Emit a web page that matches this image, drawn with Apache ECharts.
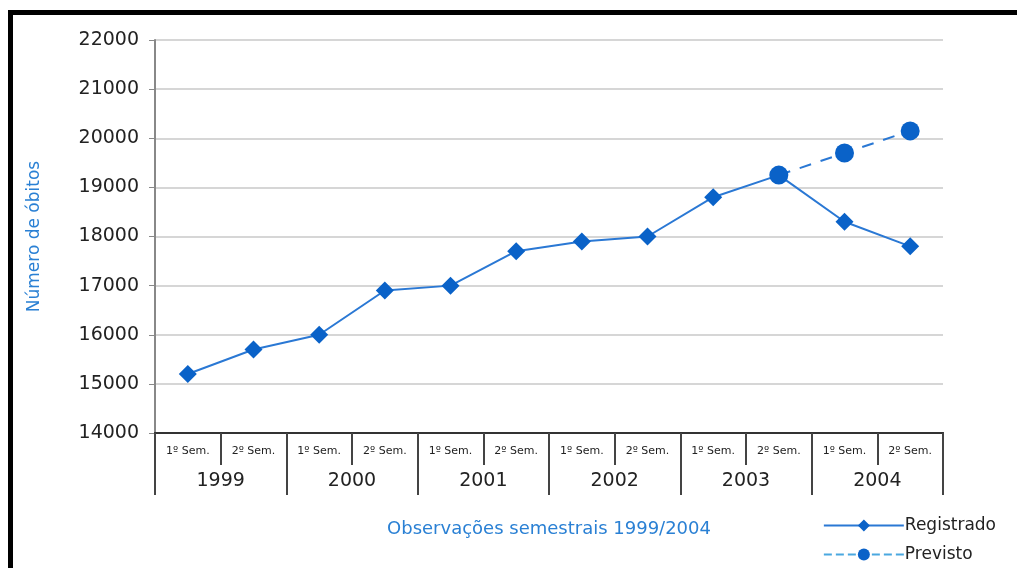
<!DOCTYPE html>
<html>
<head>
<meta charset="utf-8">
<script src="https://cdn.jsdelivr.net/npm/echarts@6/dist/echarts.min.js"></script>
<style>html,body{margin:0;padding:0;background:#fff;}#c{width:1017px;height:568px;}</style>
</head>
<body>
<div id="c"></div>
<script>
const semesters = ['1º Sem.','2º Sem.','1º Sem.','2º Sem.','1º Sem.','2º Sem.','1º Sem.','2º Sem.','1º Sem.','2º Sem.','1º Sem.','2º Sem.'];
const years = ['1999','2000','2001','2002','2003','2004'];
const registrado = [15200, 15700, 16000, 16900, 17000, 17700, 17900, 18000, 18800, 19250, 18300, 17800];
const previsto = [null, null, null, null, null, null, null, null, null, 19250, 19700, 20150];
const yTicks = {min: 14000, max: 22000, interval: 1000};

const FONT = 'DejaVu Sans';
const blue = '#0a62c8';
const lineBlue = '#2a78d4';
const chart = echarts.init(document.getElementById('c'));
chart.setOption({
  animation: false,
  backgroundColor: '#fff',
  textStyle: {fontFamily: FONT},
  grid: {left: 155, right: 74, top: 40, bottom: 135},
  xAxis: [{
    type: 'category',
    data: semesters,
    boundaryGap: true,
    position: 'bottom',
    axisLine: {show: true, lineStyle: {color: '#333', width: 2}},
    axisTick: {show: true, interval: 0, length: 32, lineStyle: {color: '#444', width: 2}},
    axisLabel: {interval: 0, fontSize: 11, color: '#222', margin: 13, fontFamily: FONT},
    splitLine: {show: false}
  }, {
    type: 'category',
    data: years,
    boundaryGap: true,
    position: 'bottom',
    axisLine: {show: true, lineStyle: {color: '#333', width: 2}},
    axisTick: {show: true, interval: 0, length: 62, lineStyle: {color: '#444', width: 2}},
    axisLabel: {interval: 0, fontSize: 19, color: '#222', margin: 39, fontFamily: FONT},
    splitLine: {show: false},
    name: 'Observações semestrais 1999/2004',
    nameLocation: 'middle',
    nameGap: 87,
    nameTextStyle: {color: '#2a80d4', fontSize: 18, fontFamily: FONT}
  }],
  yAxis: {
    type: 'value',
    min: yTicks.min, max: yTicks.max, interval: yTicks.interval,
    axisLine: {show: true, lineStyle: {color: '#888', width: 2}},
    axisTick: {show: true, length: 6, lineStyle: {color: '#888', width: 1}},
    axisLabel: {fontSize: 19, color: '#222', margin: 16, fontFamily: FONT, formatter: v => String(v)},
    splitLine: {show: true, lineStyle: {color: '#d6d6d6', width: 2}},
    name: 'Número de óbitos',
    nameLocation: 'middle',
    nameGap: 112,
    nameTextStyle: {color: '#2a80d4', fontSize: 17, fontFamily: FONT}
  },
  legend: {
    orient: 'vertical',
    right: 16,
    top: 512,
    itemWidth: 80,
    itemHeight: 15,
    itemGap: 12,
    textStyle: {fontSize: 17, color: '#222', fontFamily: FONT, padding: [0,0,0,-4]},
    data: [
      {name: 'Registrado'},
      {name: 'Previsto', lineStyle: {color: '#4aa8e0', type: 'dashed', width: 2}}
    ]
  },
  series: [{
    name: 'Registrado',
    type: 'line',
    xAxisIndex: 0,
    data: registrado,
    symbol: 'diamond',
    symbolSize: 18,
    itemStyle: {color: blue},
    lineStyle: {color: lineBlue, width: 2}
  }, {
    name: 'Previsto',
    type: 'line',
    xAxisIndex: 0,
    data: previsto,
    symbol: 'circle',
    symbolSize: 19,
    itemStyle: {color: blue},
    lineStyle: {color: lineBlue, width: 2, type: [12, 10]}
  }],
  graphic: [
    {type: 'rect', shape: {x: 8, y: 10, width: 1009, height: 5}, style: {fill: '#000'}},
    {type: 'rect', shape: {x: 8, y: 10, width: 5, height: 558}, style: {fill: '#000'}}
  ]
});
</script>
</body>
</html>
